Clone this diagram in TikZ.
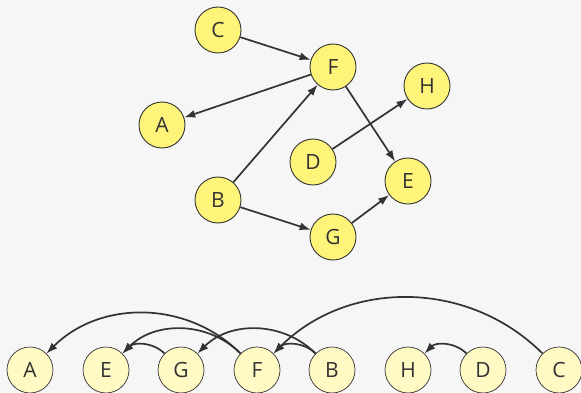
\documentclass[tikz,border=0pt]{standalone}
\usepackage{fontspec}
\setmainfont{Open Sans}
\usetikzlibrary{arrows.meta}
\definecolor{paper}{HTML}{F6F6F6}
\definecolor{ink}{HTML}{333333}
\definecolor{yellowtop}{HTML}{FFF47A}
\definecolor{yellowrow}{HTML}{FFF9C4}
\tikzset{
  vertex/.style={circle, draw=ink, fill=yellowtop, line width=0.9pt,
    minimum size=46pt, inner sep=0pt, text=ink,
    font=\fontsize{21}{25}\selectfont},
  rowvertex/.style={vertex, fill=yellowrow, line width=0.7pt},
  edge/.style={draw=ink, line width=1.7pt},
  arc/.style={edge, out=135, in=45}
}

\begin{document}
\begin{tikzpicture}[x=1pt, y=-1pt, >={Latex[length=11pt,width=8pt]}]
  \fill [paper] (0,0) rectangle (581,393);
  \useasboundingbox (0,0) rectangle (581,393);
  % the graph
  \node [vertex] (C) at (218,30) {C};
  \node [vertex] (F) at (333,67) {F};
  \node [vertex] (H) at (427,86) {H};
  \node [vertex] (A) at (162,125) {A};
  \node [vertex] (D) at (313,162) {D};
  \node [vertex] (E) at (408,181) {E};
  \node [vertex] (B) at (218,200) {B};
  \node [vertex] (G) at (333,237) {G};
  \draw [edge, ->] (C) -- (F);
  \draw [edge, ->] (F) -- (A);
  \draw [edge, ->] (F) -- (E);
  \draw [edge, ->] (B) -- (F);
  \draw [edge, ->] (B) -- (G);
  \draw [edge, ->] (G) -- (E);
  \draw [edge, ->] (D) -- (H);
  % topological order
  \node [rowvertex] (rA) at (30,370) {A};
  \node [rowvertex] (rE) at (106,370) {E};
  \node [rowvertex] (rG) at (181,370) {G};
  \node [rowvertex] (rF) at (257,370) {F};
  \node [rowvertex] (rB) at (332,370) {B};
  \node [rowvertex] (rH) at (408,370) {H};
  \node [rowvertex] (rD) at (483,370) {D};
  \node [rowvertex] (rC) at (559,370) {C};
  \draw [arc, ->] (rF) to (rA);
  \draw [arc, ->] (rF) to (rE);
  \draw [arc, ->] (rG) to (rE);
  \draw [arc, ->] (rB) to (rG);
  \draw [arc, ->] (rB) to (rF);
  \draw [arc, ->] (rC) to (rF);
  \draw [arc, ->] (rD) to (rH);
\end{tikzpicture}
\end{document}
